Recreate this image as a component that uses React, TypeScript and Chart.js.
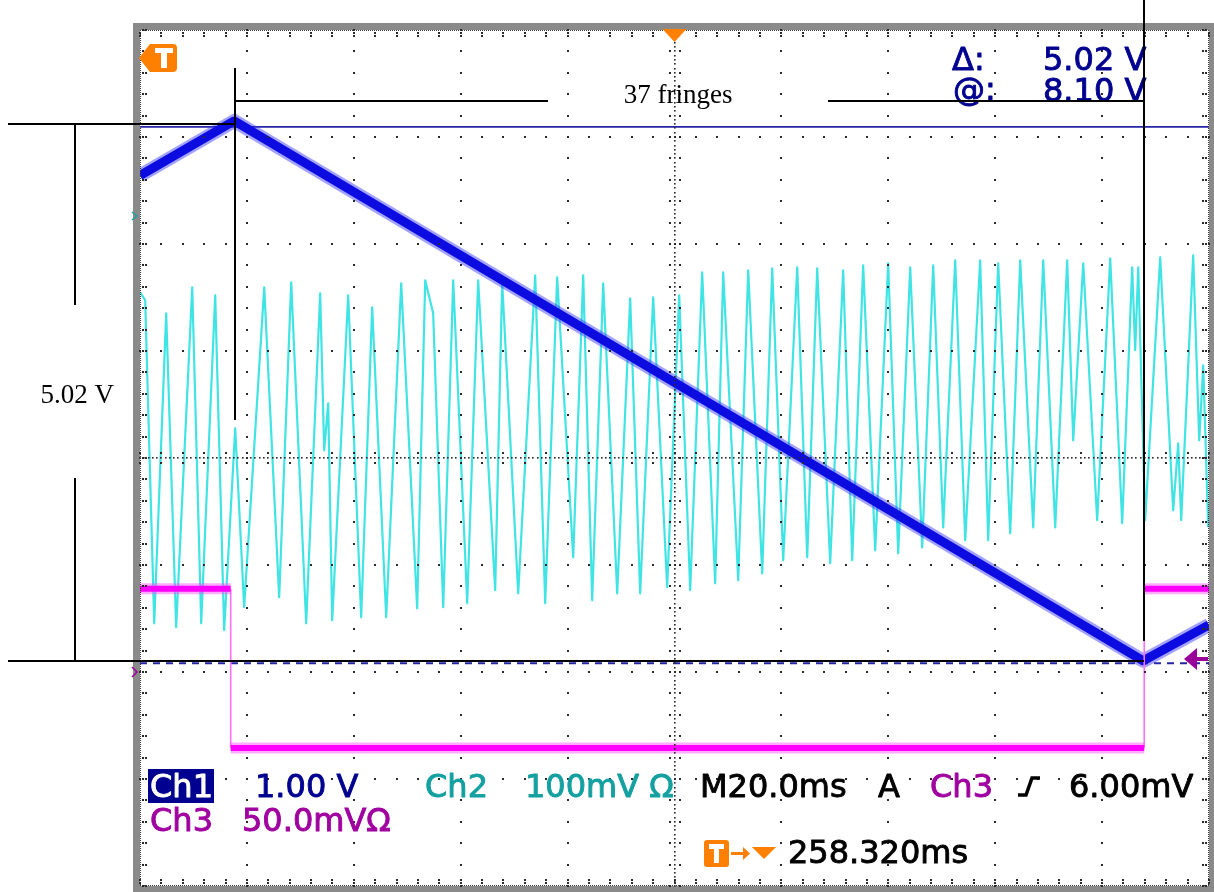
import React, { useEffect, useRef } from 'react';
import { Chart, registerables } from 'chart.js';

Chart.register(...registerables);

// Horizontal axis: time in ms (M 20.0 ms/div, 10 divisions). Vertical axis: screen divisions (8).
const timeMin = 0;
const timeMax = 200;
const divMin = -4;
const divMax = 4;

// Ch1 (1.00 V/div): triangular ramp
const ch1Time = [0, 17.62, 187.7, 200];
const ch1Div = [2.64, 3.15, -1.895, -1.56];

// Ch2 (100 mV/div): interference fringes, turning points
const ch2Time = [
  0.04, 0.97, 2.66, 4.9, 6.77, 9.77, 11.45, 14.07, 15.75, 17.81,
  19.49, 23.24, 26.04, 28.29, 31.09, 33.71, 34.46, 35.21, 35.96, 38.95,
  41.38, 43.44, 46.06, 48.87, 51.86, 53.36, 54.85, 56.73, 58.6, 61.22,
  63.27, 66.45, 67.76, 70.76, 73.94, 75.81, 78.05, 81.05, 82.92, 84.6,
  86.66, 89.28, 91.71, 93.58, 96.01, 98.63, 100.88, 102.94, 105.18, 107.61,
  109.11, 111.92, 113.79, 116.41, 118.28, 120.34, 122.96, 124.83, 126.7, 129.13,
  131.56, 133.25, 135.3, 137.55, 139.98, 141.85, 144.1, 146.34, 148.4, 150.27,
  152.52, 154.39, 157.19, 158.69, 160.56, 162.81, 164.68, 167.11, 168.98, 171.23,
  173.47, 174.6, 176.47, 179.08, 181.52, 183.76, 185.63, 186.19, 186.76, 188.06,
  190.87, 193.3, 194.24, 194.8, 197.04, 198.17, 198.92, 199.85,
];
const ch2Div = [
  1.549, 1.474, -1.545, 1.352, -1.582, 1.595, -1.545, 1.521, -1.61, 0.278,
  -1.395, 1.595, -1.302, 1.642, -1.545, 1.539, 0.072, 0.511, -1.517, 1.521,
  -1.489, 1.408, -1.489, 1.633, -1.405, 1.661, 1.352, -1.395, 1.661, -1.358,
  1.661, -1.236, 1.642, -1.265, 1.708, -1.358, 1.689, -0.928, 1.708, -1.33,
  1.633, -1.265, 1.493, -1.265, 1.502, -1.208, 1.521, -1.236, 1.736, -1.171,
  1.736, -1.143, 1.754, -1.078, 1.773, -0.956, 1.782, -0.928, 1.773, -0.984,
  1.754, -0.956, 1.801, -0.863, 1.82, -0.891, 1.782, -0.835, 1.801, -0.648,
  1.848, -0.769, 1.848, -0.769, 1.82, -0.704, 1.848, -0.648, 1.848, -0.648,
  1.848, 0.165, 1.82, -0.582, 1.866, -0.61, 1.782, 1.007, 1.782, -0.582,
  1.876, -0.489, 0.137, -0.582, 1.894, 0.165, 0.866, -0.648,
];

// Ch3 (50.0 mV/div): gate signal, edges and levels
const ch3EdgeTime = [16.97, 187.88];
const ch3Level = [-1.221, -2.71, -1.221];

// Cursors (Δ 5.02 V): solid upper, dashed lower
const cursorSolid = 3.095;
const cursorDashed = -1.918;

// Readouts
const readTopLabels = ['Δ:', '@:'];
const readTopValues = ['5.02 V', '8.10 V'];
const fringeLabel = '37 fringes';
const spanLabel = '5.02 V';

const scopePlugin = {
  id: 'scope',
  afterDatasetsDraw(chart: any) {
    const { ctx, chartArea: a, scales } = chart;
    const xs = (t: number) => scales.x.getPixelForValue(t);
    const ys = (d: number) => scales.y.getPixelForValue(d);
    ctx.save();
    // frame
    ctx.fillStyle = '#8a8a8a';
    ctx.fillRect(a.left - 7, a.top - 7, a.right - a.left + 12, 7);
    ctx.fillRect(a.left - 7, a.bottom, a.right - a.left + 12, 7);
    ctx.fillRect(a.left - 7, a.top - 7, 7, a.bottom - a.top + 14);
    ctx.fillRect(a.right, a.top - 7, 6, a.bottom - a.top + 14);
    // dotted inner edge
    ctx.strokeStyle = '#3a3a3a';
    ctx.lineWidth = 1;
    ctx.setLineDash([1, 1]);
    ctx.beginPath();
    ctx.moveTo(a.left, a.top + 0.5); ctx.lineTo(a.right, a.top + 0.5);
    ctx.moveTo(a.left, a.bottom - 0.5); ctx.lineTo(a.right, a.bottom - 0.5);
    ctx.moveTo(a.left + 0.5, a.top); ctx.lineTo(a.left + 0.5, a.bottom);
    ctx.moveTo(a.right - 0.5, a.top); ctx.lineTo(a.right - 0.5, a.bottom);
    ctx.stroke();
    ctx.setLineDash([]);

    ctx.fillStyle = '#2a2a2a';
    const dot = (px: number, py: number) => ctx.fillRect(Math.round(px) - 1, Math.round(py) - 1, 2, 2);
    const small = (px: number, py: number) => ctx.fillRect(Math.round(px) - 1, Math.round(py) - 1, 1.6, 1.6);
    const xMid = (timeMin + timeMax) / 2;
    const yMid = (divMin + divMax) / 2;
    for (let i = 1; i < 10; i++) {
      if (i === 5) continue;
      for (let k = 0; k <= 40; k++) dot(xs(i * 20), ys(divMin + k * 0.2));
    }
    for (let j = 1; j < 8; j++) {
      if (j === 4) continue;
      for (let k = 0; k <= 50; k++) dot(xs(k * 4), ys(divMin + j));
    }
    for (let k = 0; k <= 200; k++) small(xs(xMid), ys(divMin + k * 0.04));
    for (let k = 0; k <= 250; k++) small(xs(k * 0.8), ys(yMid));
    for (let k = 0; k <= 40; k++) {
      const py = ys(divMin + k * 0.2);
      dot(xs(xMid) - 5, py); dot(xs(xMid) + 5, py);
      dot(a.left + 3, py); dot(a.left + 6, py);
      dot(a.right - 3, py); dot(a.right - 6, py);
    }
    for (let k = 0; k <= 50; k++) {
      const px = xs(k * 4);
      dot(px, ys(yMid) - 5); dot(px, ys(yMid) + 5);
      dot(px, a.top + 3); dot(px, a.top + 6);
      dot(px, a.bottom - 3); dot(px, a.bottom - 6);
    }
    ctx.restore();
  },
  afterDraw(chart: any) {
    const { ctx, scales } = chart;
    const xs = (t: number) => scales.x.getPixelForValue(t);
    const ys = (d: number) => scales.y.getPixelForValue(d);
    ctx.save();

    // Orange trigger markers
    ctx.fillStyle = '#FF7F00';
    ctx.beginPath();
    ctx.moveTo(139, 58); ctx.lineTo(150, 44); ctx.lineTo(173, 44);
    ctx.quadraticCurveTo(177, 44, 177, 48); ctx.lineTo(177, 68);
    ctx.quadraticCurveTo(177, 72, 173, 72); ctx.lineTo(150, 72); ctx.closePath();
    ctx.fill();
    ctx.fillStyle = '#fff';
    ctx.fillRect(155, 48, 18, 5);
    ctx.fillRect(161, 48, 6, 20);
    ctx.fillStyle = '#FF7F00';
    const tx = xs((timeMin + timeMax) / 2);
    ctx.beginPath();
    ctx.moveTo(tx - 12, 29); ctx.lineTo(tx + 12, 29); ctx.lineTo(tx, 42); ctx.closePath();
    ctx.fill();

    // purple trigger level arrow at right edge
    ctx.fillStyle = '#990099';
    ctx.beginPath();
    ctx.moveTo(1184, 659); ctx.lineTo(1197, 648); ctx.lineTo(1197, 670); ctx.closePath();
    ctx.fill();
    ctx.fillRect(1196, 657, 12, 4);

    // ground markers at left edge
    ctx.lineWidth = 1.5;
    ctx.strokeStyle = '#20A0A0';
    ctx.beginPath(); ctx.moveTo(132, 212); ctx.lineTo(137, 216); ctx.lineTo(132, 220); ctx.stroke();
    ctx.strokeStyle = '#A000A0';
    ctx.beginPath(); ctx.moveTo(132, 667); ctx.lineTo(137, 672); ctx.lineTo(132, 677); ctx.stroke();

    // Readout texts (slightly emboldened)
    ctx.textBaseline = 'alphabetic';
    ctx.textAlign = 'left';
    ctx.font = '32px "DejaVu Sans"';
    ctx.lineWidth = 0.9;
    ctx.lineJoin = 'round';
    const txt = (s: string, x: number, y: number, c: string) => {
      ctx.fillStyle = c; ctx.strokeStyle = c;
      ctx.fillText(s, x, y); ctx.strokeText(s, x, y);
    };
    const dk = '#000090';
    txt(readTopLabels[0], 952, 70, dk);
    txt(readTopValues[0], 1043, 70, dk);
    txt(readTopLabels[1], 953, 100, dk);
    txt(readTopValues[1], 1043, 101, dk);

    ctx.fillStyle = dk;
    ctx.fillRect(148, 769, 66, 34);
    txt('Ch1', 150, 797, '#fff');
    txt('1.00 V', 255, 797, dk);
    txt('Ch2', 425, 797, '#14A0A0');
    txt('100mV Ω', 525, 797, '#14A0A0');
    txt('M20.0ms', 700, 797, '#000');
    txt('A', 878, 797, '#000');
    txt('Ch3', 930, 797, '#A000A0');
    txt('6.00mV', 1069, 797, '#000');
    // rising slope icon
    ctx.strokeStyle = '#000';
    ctx.lineWidth = 3.5;
    ctx.lineJoin = 'miter';
    ctx.beginPath();
    ctx.moveTo(1018, 795); ctx.lineTo(1026, 795); ctx.lineTo(1032, 778); ctx.lineTo(1040, 778);
    ctx.stroke();
    ctx.lineWidth = 0.9;
    txt('Ch3', 150, 831, '#A000A0');
    txt('50.0mVΩ', 242, 831, '#A000A0');
    txt('258.320ms', 788, 863, '#000');

    // bottom trigger position marker
    ctx.fillStyle = '#FF7F00';
    ctx.beginPath();
    if (ctx.roundRect) ctx.roundRect(704, 840, 25, 27, 3); else ctx.rect(704, 840, 25, 27);
    ctx.fill();
    ctx.fillStyle = '#fff';
    ctx.fillRect(709, 844, 15, 5);
    ctx.fillRect(714, 844, 5, 19);
    ctx.fillStyle = '#FF7F00';
    ctx.fillRect(731, 852, 13, 3);
    ctx.beginPath(); ctx.moveTo(743, 847); ctx.lineTo(750, 853.5); ctx.lineTo(743, 860); ctx.closePath(); ctx.fill();
    ctx.beginPath(); ctx.moveTo(752, 847); ctx.lineTo(776, 847); ctx.lineTo(764, 859); ctx.closePath(); ctx.fill();

    // Dimension annotations (data-space anchors)
    const tOuter = -24.66, tDim = -12.12, tPeak = 17.81, tTrough = 187.75;
    const tGapL = 76.37, tGapR = 128.76;
    const lvPeak = 3.119, lvBrace = 3.334, lvTrough = -1.9;
    const lvTop = 4.3, lvPeakMarkTop = 3.641, lvPeakMarkBot = 0.352;
    const lvDimGapTop = 1.427, lvDimGapBot = -0.189, lvTroughMarkBot = -1.713;
    ctx.strokeStyle = '#000';
    ctx.lineWidth = 2;
    const seg = (t1: number, v1: number, t2: number, v2: number) => {
      ctx.beginPath();
      ctx.moveTo(Math.round(xs(t1)), Math.round(ys(v1)));
      ctx.lineTo(Math.round(xs(t2)), Math.round(ys(v2)));
      ctx.stroke();
    };
    seg(tOuter, lvPeak, tPeak, lvPeak);
    seg(tOuter, lvTrough, tTrough, lvTrough);
    seg(tDim, lvPeak, tDim, lvDimGapTop);
    seg(tDim, lvDimGapBot, tDim, lvTrough);
    seg(tPeak, lvPeakMarkTop, tPeak, lvPeakMarkBot);
    seg(tPeak, lvBrace, tGapL, lvBrace);
    seg(tGapR, lvBrace, tTrough, lvBrace);
    seg(tTrough, lvTop, tTrough, lvTroughMarkBot);

    ctx.fillStyle = '#000';
    ctx.font = '27px "Liberation Serif"';
    ctx.textAlign = 'center';
    ctx.fillText(fringeLabel, (xs(tGapL) + xs(tGapR)) / 2 - 10, 103);
    ctx.fillText(spanLabel, xs(tDim) + 2, 403);
    ctx.restore();
  },
};

export default function App() {
  const ref = useRef<HTMLCanvasElement>(null);
  useEffect(() => {
    const canvas = ref.current;
    if (!canvas) return;
    const pts = (t: number[], v: number[]) => t.map((x, i) => ({ x, y: v[i] }));
    const edges = [timeMin, ...ch3EdgeTime, timeMax];
    const ch3H: any[] = [];
    ch3Level.forEach((lv, i) => {
      ch3H.push({ x: edges[i], y: lv }, { x: edges[i + 1], y: lv });
      if (i < ch3Level.length - 1) ch3H.push({ x: edges[i + 1], y: null });
    });
    const ch3V: any[] = [];
    ch3EdgeTime.forEach((t, i) => {
      ch3V.push({ x: t, y: ch3Level[i] }, { x: t, y: ch3Level[i + 1] });
      if (i < ch3EdgeTime.length - 1) ch3V.push({ x: t, y: null });
    });
    const ch1 = pts(ch1Time, ch1Div);
    const chart = new Chart(canvas, {
      type: 'line',
      data: {
        datasets: [
          { data: ch3H, borderColor: '#FF00FF', borderWidth: 6, order: 0, borderCapStyle: 'butt' },
          { data: ch3H, borderColor: 'rgba(255,70,255,0.45)', borderWidth: 11, order: 1, borderCapStyle: 'butt' },
          { data: ch3V, borderColor: '#FF70FF', borderWidth: 1.6, order: 2 },
          { data: ch1, borderColor: '#0C0CE0', borderWidth: 9, order: 3, borderJoinStyle: 'round' },
          { data: ch1, borderColor: 'rgba(50,50,255,0.45)', borderWidth: 14, order: 4, borderJoinStyle: 'round' },
          { data: pts(ch2Time, ch2Div), borderColor: '#40E4E4', borderWidth: 2.2, order: 5, borderJoinStyle: 'round' },
          { data: [{ x: timeMin, y: cursorSolid }, { x: timeMax, y: cursorSolid }], borderColor: '#2424A8', borderWidth: 1.6, order: 6 },
          { data: [{ x: timeMin, y: cursorDashed }, { x: timeMax, y: cursorDashed }], borderColor: '#2424A8', borderWidth: 2, borderDash: [7, 6], order: 7 },
        ] as any,
      },
      options: {
        responsive: false,
        animation: false,
        events: [],
        layout: { padding: { left: 140, right: 5, top: 30, bottom: 6 } },
        plugins: { legend: { display: false }, tooltip: { enabled: false } },
        elements: { point: { radius: 0 }, line: { tension: 0 } },
        scales: {
          x: { type: 'linear', min: timeMin, max: timeMax, display: false },
          y: { type: 'linear', min: divMin, max: divMax, display: false },
        },
      } as any,
      plugins: [scopePlugin],
    });
    return () => chart.destroy();
  }, []);
  return (
    <div style={{ position: 'absolute', left: 0, top: 0, width: 1214, height: 892, background: '#fff' }}>
      <canvas ref={ref} width={1214} height={892} style={{ display: 'block' }} />
    </div>
  );
}
